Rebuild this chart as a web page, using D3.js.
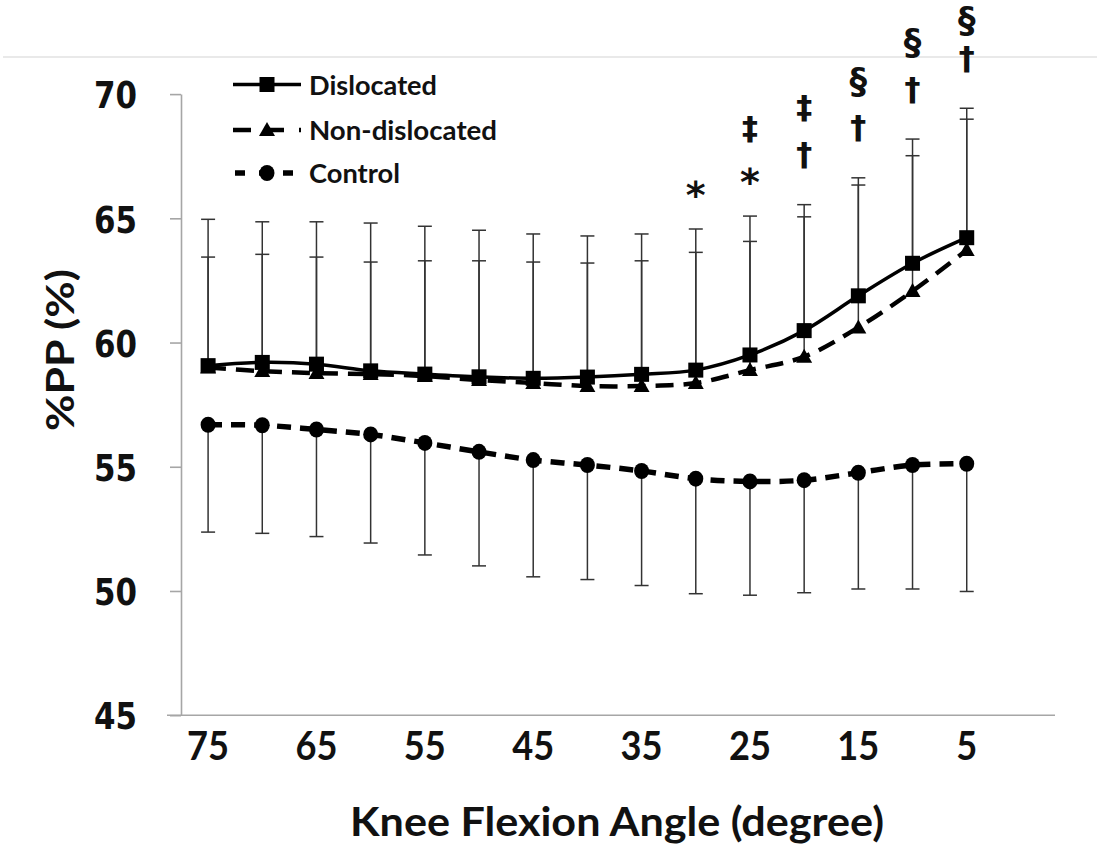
<!DOCTYPE html>
<html><head><meta charset="utf-8">
<script src="https://cdn.jsdelivr.net/npm/d3@7"></script>
<style>
html,body{margin:0;padding:0;background:#fff;}
svg{display:block;}
</style></head>
<body>
<svg id="chart" width="1097" height="848"></svg>
<script>
// ---- data ----
const angles = ["75","70","65","60","55","50","45","40","35","30","25","20","15","10","5","0"];
const tickLabels = ["75","65","55","45","35","25","15","5"];
const yTicks = [45,50,55,60,65,70];
const seriesNames = ["Dislocated","Non-dislocated","Control"];

const dislocatedMean = [59.07,59.20,59.13,58.86,58.73,58.62,58.56,58.61,58.72,58.89,59.50,60.48,61.88,63.19,64.22];
const dislocatedSD   = [5.89,5.66,5.73,5.95,5.95,5.90,5.81,5.68,5.65,5.68,5.59,5.07,4.75,5.00,5.21];
const nonDislocatedMean = [59.00,58.85,58.77,58.73,58.65,58.49,58.37,58.25,58.25,58.37,58.89,59.43,60.61,62.07,63.72];
const nonDislocatedSD   = [4.44,4.70,4.67,4.51,4.64,4.80,4.87,4.95,5.04,5.26,5.18,5.63,5.73,5.45,5.27];
const controlMean = [56.69,56.67,56.50,56.30,55.96,55.60,55.27,55.07,54.83,54.52,54.41,54.46,54.76,55.07,55.12];
const controlSD   = [4.32,4.35,4.31,4.37,4.51,4.59,4.70,4.61,4.61,4.63,4.58,4.53,4.68,4.99,5.14];

// significance marks: angle, symbols from top to bottom
const sigAngles = ["30","25","20","15","10","5"];
const sigSymbols = [["*"],["‡","*"],["‡","†"],["§","†"],["§","†"],["§","†"]];

// ---- layout ----
const svg = d3.select("#chart");
const X0 = 181, X1 = 1048, Ytop = 94.1, Ybot = 715.2;
const x = d3.scaleBand().domain(angles).range([X0, X1]).paddingInner(0).paddingOuter(0);
const cx = a => x(a) + x.bandwidth()/2;
const y = d3.scaleLinear().domain([45,70]).range([Ybot, Ytop]);

const calibri = "Lato, 'Open Sans', sans-serif";

// top light rule
svg.append("line").attr("x1",3).attr("x2",1097).attr("y1",57).attr("y2",57)
  .attr("stroke","#d4d4d4").attr("stroke-width",1.2);

// Y axis
const yAxis = svg.append("g").attr("transform",`translate(${X0},0)`)
  .call(d3.axisLeft(y).tickValues(yTicks).tickSize(11).tickSizeOuter(0).tickPadding(33).tickFormat(d3.format("d")));
yAxis.select(".domain").attr("stroke","#a6a6a6").attr("stroke-width",1.6);
yAxis.selectAll(".tick line").attr("stroke","#a6a6a6").attr("stroke-width",1.6);
yAxis.selectAll(".tick text").attr("font-family","'DejaVu Sans', Verdana, sans-serif")
  .attr("font-weight","bold").attr("font-size",38).attr("fill","#111").attr("dy","0.36em")
  .attr("textLength",43).attr("lengthAdjust","spacingAndGlyphs");

// X axis
const xAxis = svg.append("g").attr("transform",`translate(0,${Ybot})`)
  .call(d3.axisBottom(x).tickValues(tickLabels).tickSize(0).tickSizeOuter(0));
xAxis.select(".domain").remove();
svg.append("line").attr("x1",167).attr("x2",1055).attr("y1",Ybot).attr("y2",Ybot)
  .attr("stroke","#a6a6a6").attr("stroke-width",1.6);
xAxis.selectAll(".tick text").attr("font-family",calibri).attr("font-weight","bold")
  .attr("font-size",41).attr("fill","#111").attr("y",45).attr("dy",0)
  .attr("textLength",d=>d.length===2?42:21).attr("lengthAdjust","spacingAndGlyphs");

// axis titles
svg.append("text").attr("x",617).attr("y",836).attr("text-anchor","middle")
  .attr("font-family",calibri).attr("font-weight","bold").attr("font-size",41).attr("fill","#111")
  .attr("textLength",534).attr("lengthAdjust","spacingAndGlyphs")
  .text("Knee Flexion Angle (degree)");
svg.append("text").attr("transform","translate(74,350) rotate(-90)").attr("text-anchor","middle")
  .attr("font-family",calibri).attr("font-weight","bold").attr("font-size",39).attr("fill","#111")
  .attr("textLength",162).attr("lengthAdjust","spacingAndGlyphs")
  .text("%PP (%)");

const series = [
  {name:seriesNames[0], mean:dislocatedMean, sd:dislocatedSD, dir:1, dash:null, w:3.5, marker:"square"},
  {name:seriesNames[1], mean:nonDislocatedMean, sd:nonDislocatedSD, dir:1, dash:"18,10", w:4.5, marker:"triangle"},
  {name:seriesNames[2], mean:controlMean, sd:controlSD, dir:-1, dash:"14,9", w:5.5, marker:"circle"}
];

// error bars
const cap = 7;
series.forEach(s=>{
  const g = svg.append("g");
  s.mean.forEach((m,i)=>{
    const xx = cx(angles[i]);
    const end = m + s.dir*s.sd[i];
    g.append("line").attr("x1",xx).attr("x2",xx).attr("y1",y(m)).attr("y2",y(end))
      .attr("stroke","#333").attr("stroke-width",1.5);
    g.append("line").attr("x1",xx-cap).attr("x2",xx+cap).attr("y1",y(end)).attr("y2",y(end))
      .attr("stroke","#333").attr("stroke-width",1.5);
  });
});

// lines
const line = d3.line().x((d,i)=>cx(angles[i])).y(d=>y(d)).curve(d3.curveCatmullRom.alpha(0.5));
series.slice().reverse().forEach(s=>{
  const p = svg.append("path").attr("d",line(s.mean)).attr("fill","none")
    .attr("stroke","#000").attr("stroke-width",s.w);
  if(s.dash) p.attr("stroke-dasharray",s.dash);
});

function drawMarker(g, type, px, py){
  if(type==="square"){
    g.append("rect").attr("x",px-7.5).attr("y",py-7.5).attr("width",15).attr("height",15).attr("fill","#000");
  } else if(type==="triangle"){
    g.append("path").attr("d",`M${px},${py-8}L${px+8},${py+6}L${px-8},${py+6}Z`).attr("fill","#000");
  } else {
    g.append("ellipse").attr("cx",px).attr("cy",py).attr("rx",7.5).attr("ry",8).attr("fill","#000");
  }
}
// markers
series.slice().reverse().forEach(s=>{
  const g = svg.append("g");
  s.mean.forEach((m,i)=>drawMarker(g, s.marker, cx(angles[i]), y(m)));
});

// significance symbols (ink-centred on target)
const symFont = "'DejaVu Sans'";
const symSize = {"*":38, "†":32, "‡":32, "§":35};
const mc = document.createElement("canvas").getContext("2d");
sigAngles.forEach((a,k)=>{
  const syms = sigSymbols[k];
  const i = angles.indexOf(a);
  const top = Math.max(dislocatedMean[i]+dislocatedSD[i], nonDislocatedMean[i]+nonDislocatedSD[i]);
  let centre = y(top) - (syms[syms.length-1]==="*" ? 40 : 49);
  const centres = [];
  syms.slice().reverse().forEach((sym,j)=>{
    if(j>0) centre -= 47;
    centres.push(Math.max(centre, 21));
  });
  syms.slice().reverse().forEach((sym,j)=>{
    const c = centres[j];
    mc.font = `bold ${symSize[sym]}px ${symFont}`;
    const m = mc.measureText(sym);
    const inkTop = -m.actualBoundingBoxAscent, inkBot = m.actualBoundingBoxDescent;
    svg.append("text").attr("x",cx(a)).attr("y", c - (inkTop+inkBot)/2)
      .attr("text-anchor","middle").attr("font-family",symFont).attr("font-weight","bold")
      .attr("font-size", symSize[sym]).attr("fill","#111").text(sym);
  });
});

// legend
const legY = [84.5, 130, 173];
series.forEach((s,k)=>{
  const g = svg.append("g");
  const ly = legY[k];
  const l = g.append("line").attr("x1",233).attr("x2",301).attr("y1",ly).attr("y2",ly)
    .attr("stroke","#000").attr("stroke-width",s.w);
  if(s.dash) l.attr("stroke-dasharray", k===1?"18,15":"10,14").attr("stroke-dashoffset",k===1?0:-2);
  drawMarker(g, s.marker, 267, ly);
  g.append("text").attr("x",309).attr("y",ly+10).attr("font-family",calibri).attr("font-weight","bold")
    .attr("font-size",27).attr("fill","#111")
    .attr("textLength",[128,188,91][k]).attr("lengthAdjust","spacingAndGlyphs").text(s.name);
});
</script>
</body></html>
